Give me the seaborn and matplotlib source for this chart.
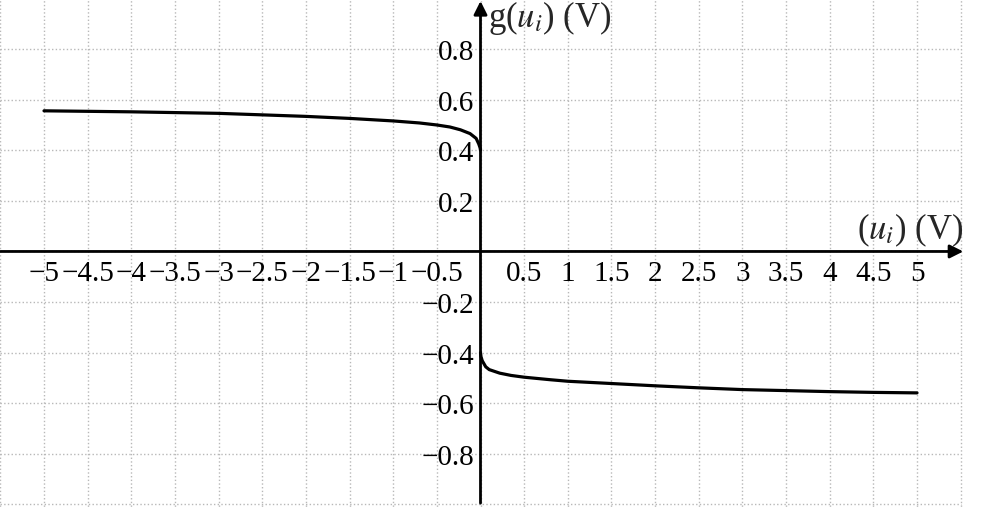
import matplotlib
matplotlib.use("Agg")
import matplotlib.pyplot as plt
import numpy as np
import pandas as pd
import seaborn as sns

# values
neg_u = [-5, -4.5, -4, -3.5, -3, -2.5, -2, -1.5, -1, -0.7, -0.5, -0.35, -0.23,
         -0.12, -0.05, -0.02, -0.005, 0]
neg_g = [0.556, 0.554, 0.552, 0.549, 0.546, 0.540, 0.534, 0.526, 0.516, 0.508,
         0.500, 0.492, 0.481, 0.466, 0.447, 0.425, 0.410, 0.400]

pos_u = [0, 0.005, 0.02, 0.06, 0.1, 0.22, 0.35, 0.5, 0.8, 1, 1.5, 2, 2.5, 3,
         3.5, 4, 4.5, 5]
pos_g = [-0.400, -0.415, -0.432, -0.456, -0.467, -0.481, -0.490, -0.497, -0.507,
         -0.513, -0.522, -0.531, -0.539, -0.546, -0.550, -0.554, -0.557, -0.559]

x_ticks = [-5, -4.5, -4, -3.5, -3, -2.5, -2, -1.5, -1, -0.5, 0.5, 1, 1.5, 2, 2.5, 3, 3.5, 4, 4.5, 5]
y_ticks = [-0.8, -0.6, -0.4, -0.2, 0.2, 0.4, 0.6, 0.8]

sns.set_style("white")
plt.rcParams["font.family"] = ["Liberation Serif", "DejaVu Serif"]
plt.rcParams["mathtext.fontset"] = "stix"

fig = plt.figure(figsize=(9.81, 5.10), dpi=100)
ax = fig.add_axes([0, 0, 1, 1])

# dotted grid
grid_x = np.arange(-5.5, 5.51, 0.5)
grid_y = np.arange(-1.0, 1.01, 0.2)
ax.vlines(grid_x, -1.1, 1.1, colors="#b8b8b8", linestyles=":", linewidth=1, zorder=0)
ax.hlines(grid_y, -5.5, 5.5, colors="#b8b8b8", linestyles=":", linewidth=1, zorder=0)

neg_df = pd.DataFrame({"u": neg_u, "g": neg_g})
pos_df = pd.DataFrame({"u": pos_u, "g": pos_g})
sns.lineplot(data=neg_df, x="u", y="g", ax=ax, color="black", linewidth=2.3, zorder=3)
sns.lineplot(data=pos_df, x="u", y="g", ax=ax, color="black", linewidth=2.3, zorder=3)

ax.set_xlim(-5.504, 5.733)
ax.set_ylim(-1.018, 0.998)

# axes through the origin with arrows
for s in ax.spines.values():
    s.set_visible(False)
ax.spines["left"].set_position(("data", 0))
ax.spines["bottom"].set_position(("data", 0))

arrow = dict(arrowstyle="-|>", lw=2, color="black", mutation_scale=20,
             shrinkA=0, shrinkB=0)
ax.annotate("", xy=(5.53, 0), xytext=(-5.5, 0), arrowprops=arrow, zorder=4)
ax.annotate("", xy=(0, 0.99), xytext=(0, -0.995), arrowprops=arrow, zorder=4)

def fmt(v):
    s = f"{v:g}"
    return s.replace("-", "\u2212")

ax.set_xticks(x_ticks, [fmt(v) for v in x_ticks])
ax.set_yticks(y_ticks, [fmt(v) for v in y_ticks])
ax.tick_params(axis="both", direction="inout", length=9, width=1, colors="black",
               labelsize=21)
ax.tick_params(axis="x", pad=2)
ax.tick_params(axis="y", pad=0)
ax.set_xlabel("")
ax.set_ylabel("")

ax.text(0.09, 1.0, r"g($u_i$) (V)", fontsize=25, ha="left", va="top")
ax.text(5.53, 0.015, r"($u_i$) (V)", fontsize=25, ha="right", va="bottom")

fig.savefig("out.png", dpi=100)
